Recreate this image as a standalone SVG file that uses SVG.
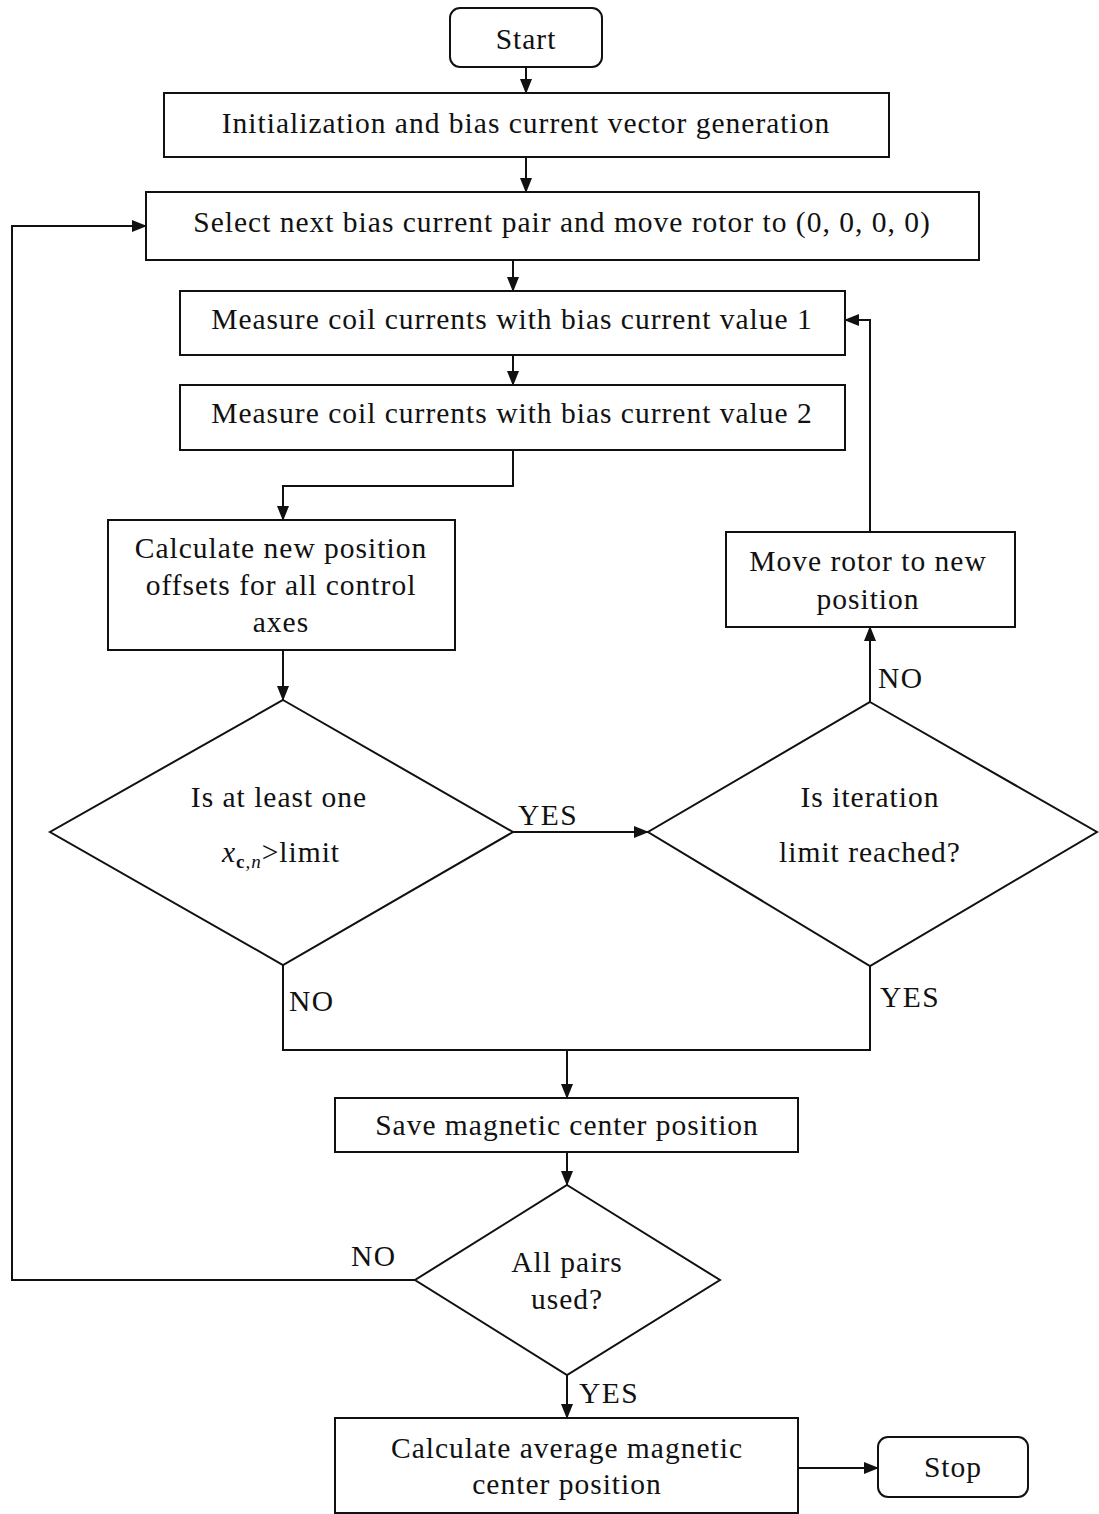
<svg xmlns="http://www.w3.org/2000/svg" width="1099" height="1514" viewBox="0 0 1099 1514">
<defs>
<marker id="ah" markerWidth="15" markerHeight="12" refX="14" refY="6" orient="auto" markerUnits="userSpaceOnUse">
<path d="M0,0 L15,6 L0,12 Z" fill="#111"/>
</marker>
<style>
.n{fill:#fff;stroke:#111;stroke-width:2}
.t{font-size:29.5px;letter-spacing:1px;fill:#111;text-anchor:middle;dominant-baseline:central}
.l{font-size:29.5px;letter-spacing:1.5px;fill:#111;dominant-baseline:central}
.c{fill:none;stroke:#111;stroke-width:2;marker-end:url(#ah)}
.c2{fill:none;stroke:#111;stroke-width:2}
</style>
</defs>
<rect width="1099" height="1514" fill="#fff"/>
<g font-family="Liberation Serif, DejaVu Serif, serif">
<g id="connectors">
<path class="c" d="M526,67 V93"/>
<path class="c" d="M526,157 V192"/>
<path class="c" d="M513,260 V291"/>
<path class="c" d="M513,355 V385"/>
<path class="c" d="M513,450 V486 H283 V520"/>
<path class="c" d="M283,650 V700"/>
<path class="c" d="M513,832 H648"/>
<path class="c" d="M870,702 V627"/>
<path class="c" d="M870,532 V320 H845"/>
<path class="c2" d="M283,965 V1050 H870 V966"/>
<path class="c" d="M567,1050 V1098"/>
<path class="c" d="M567,1152 V1185"/>
<path class="c" d="M415,1280 H12 V226 H146"/>
<path class="c" d="M567,1375 V1418"/>
<path class="c" d="M798,1468 H878"/>
<text class="l" x="518" y="815">YES</text>
<text class="l" x="878" y="678">NO</text>
<text class="l" x="289" y="1001">NO</text>
<text class="l" x="880" y="997">YES</text>
<text class="l" x="351" y="1256">NO</text>
<text class="l" x="579" y="1393">YES</text>
</g>
<g id="start"><rect class="n" x="450" y="8" width="152" height="59" rx="10"/><text class="t" x="526" y="39">Start</text></g>
<g id="init"><rect class="n" x="164" y="93" width="725" height="64"/><text class="t" x="526" y="123">Initialization and bias current vector generation</text></g>
<g id="select"><rect class="n" x="146" y="192" width="833" height="68"/><text class="t" x="562" y="222">Select next bias current pair and move rotor to (0, 0, 0, 0)</text></g>
<g id="measure1"><rect class="n" x="180" y="291" width="665" height="64"/><text class="t" x="512" y="319">Measure coil currents with bias current value 1</text></g>
<g id="measure2"><rect class="n" x="180" y="385" width="665" height="65"/><text class="t" x="512" y="413">Measure coil currents with bias current value 2</text></g>
<g id="calc"><rect class="n" x="108" y="520" width="347" height="130"/><text class="t" x="281" y="548">Calculate new position</text><text class="t" x="281" y="585">offsets for all control</text><text class="t" x="281" y="622">axes</text></g>
<g id="dec1"><path class="n" d="M283,700 L513,832 L283,965 L50,832 Z"/><text class="t" x="279" y="797">Is at least one</text><text class="t" x="281" y="852"><tspan font-style="italic">x</tspan><tspan font-size="19" dy="9" font-weight="bold">c</tspan><tspan font-size="19" font-style="italic">,n</tspan><tspan dy="-9">&gt;limit</tspan></text></g>
<g id="dec2"><path class="n" d="M870,702 L1097,832 L870,966 L648,832 Z"/><text class="t" x="870" y="797">Is iteration</text><text class="t" x="870" y="852">limit reached?</text></g>
<g id="move"><rect class="n" x="726" y="532" width="289" height="95"/><text class="t" x="868" y="561">Move rotor to new</text><text class="t" x="868" y="599">position</text></g>
<g id="save"><rect class="n" x="335" y="1098" width="463" height="54"/><text class="t" x="567" y="1125">Save magnetic center position</text></g>
<g id="dec3"><path class="n" d="M567,1185 L720,1280 L567,1375 L415,1280 Z"/><text class="t" x="567" y="1262">All pairs</text><text class="t" x="567" y="1299">used?</text></g>
<g id="avg"><rect class="n" x="335" y="1418" width="463" height="95"/><text class="t" x="567" y="1448">Calculate average magnetic</text><text class="t" x="567" y="1484">center position</text></g>
<g id="stop"><rect class="n" x="878" y="1437" width="150" height="60" rx="10"/><text class="t" x="953" y="1467">Stop</text></g>
</g>
</svg>
